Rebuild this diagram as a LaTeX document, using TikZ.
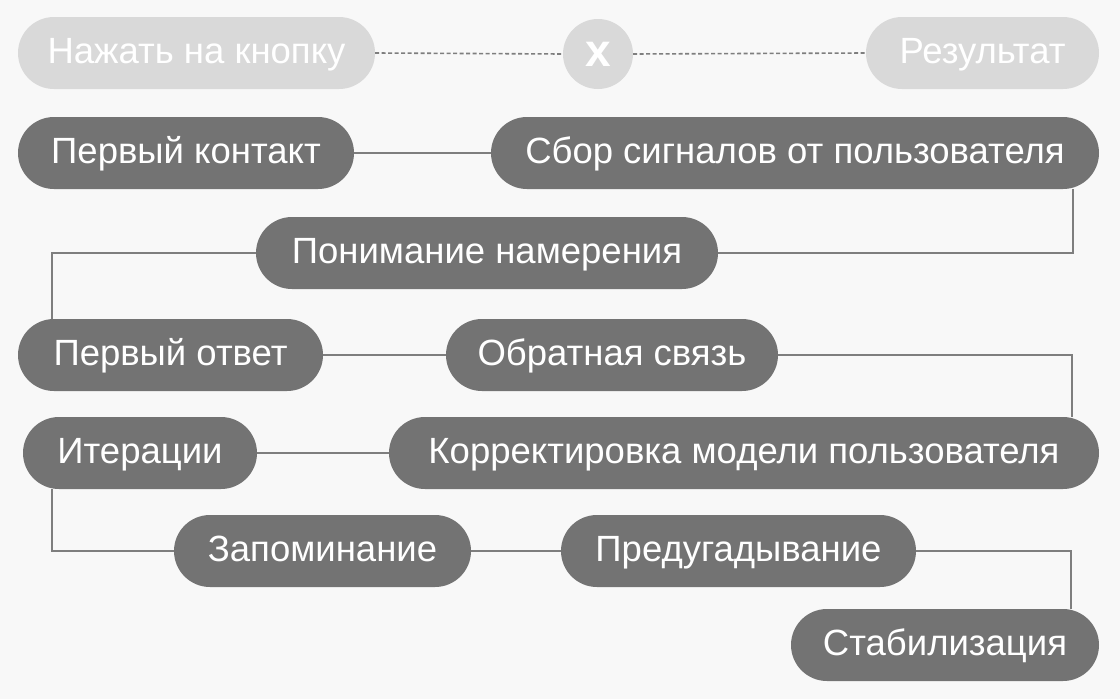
\documentclass[tikz,border=0pt]{standalone}
\usepackage{fontspec}
\setmainfont{Liberation Sans}
\definecolor{bgcol}{HTML}{F8F8F8}
\definecolor{pillcol}{HTML}{737373}
\definecolor{lightcol}{HTML}{D9D9D9}
\definecolor{linecol}{HTML}{7E7E7E}
\pgfdeclarelayer{bg}
\pgfsetlayers{bg,main}
\begin{document}
\begin{tikzpicture}[x=1pt,y=-1pt,
  pill/.style={fill=pillcol, text=white, rounded corners=36pt, minimum height=72pt,
    inner sep=0pt, text height=26pt, text depth=6pt, font=\fontsize{36.5}{40}\selectfont},
  lightpill/.style={pill, fill=lightcol},
  link/.style={draw=linecol, line width=2pt},
  dlink/.style={draw=linecol, line width=1.6pt, dash pattern=on 4pt off 2.5pt}]
\begin{pgfonlayer}{bg}
\fill[bgcol] (0,0) rectangle (1120,699);
\end{pgfonlayer}
\useasboundingbox (0,0) rectangle (1120,699);
% top row
\node[lightpill, minimum width=357pt] (n0) at (196.5,53) {Нажать на кнопку};
\node[circle, fill=lightcol, text=white, minimum size=70pt, inner sep=0pt,
  font=\fontsize{46}{50}\selectfont\bfseries] (cx) at (598,54) {x};
\node[lightpill, minimum width=233pt] (res) at (982.5,53) {Результат};
% flow
\node[pill, minimum width=336pt] (n1) at (186,153) {Первый контакт};
\node[pill, minimum width=608pt] (n2) at (795,153) {Сбор сигналов от пользователя};
\node[pill, minimum width=462pt] (n3) at (487,253) {Понимание намерения};
\node[pill, minimum width=305pt] (n4) at (170.5,355) {Первый ответ};
\node[pill, minimum width=332pt] (n5) at (612,355) {Обратная связь};
\node[pill, minimum width=234pt] (n6) at (140,453) {Итерации};
\node[pill, minimum width=710pt] (n7) at (744,453) {Корректировка модели пользователя};
\node[pill, minimum width=297pt] (n8) at (322.5,551) {Запоминание};
\node[pill, minimum width=355pt] (n9) at (738.5,551) {Предугадывание};
\node[pill, minimum width=308pt] (n10) at (945,645) {Стабилизация};
\begin{pgfonlayer}{bg}
\draw[dlink] (n0.east) -- (cx.west);
\draw[dlink] (cx.east) -- (res.west);
\draw[link] (n1.east) -- (n2.west);
\draw[link] ([xshift=-26pt]n2.south east) |- (n3.east);
\draw[link] (n3.west) -| ([xshift=34pt]n4.north west);
\draw[link] (n4.east) -- (n5.west);
\draw[link] (n5.east) -| ([xshift=-27pt]n7.north east);
\draw[link] (n6.east) -- (n7.west);
\draw[link] ([xshift=29pt]n6.south west) |- (n8.west);
\draw[link] (n8.east) -- (n9.west);
\draw[link] (n9.east) -| ([xshift=-28pt]n10.north east);
\end{pgfonlayer}
\end{tikzpicture}
\end{document}
